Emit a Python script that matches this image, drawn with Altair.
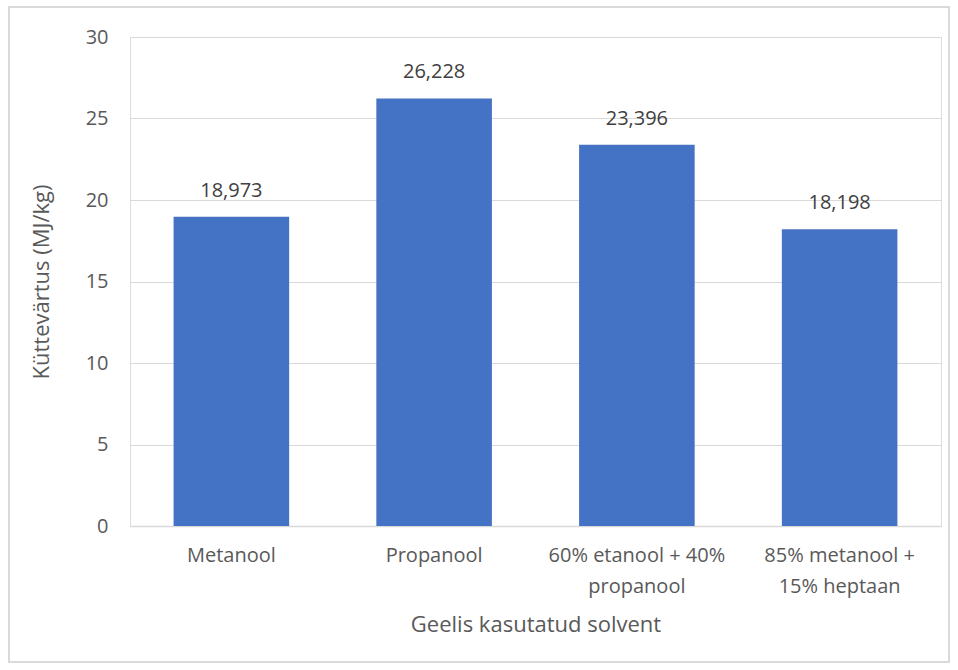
import altair as alt
import pandas as pd

categories = ["Metanool", "Propanool", "60% etanool + 40% propanool", "85% metanool + 15% heptaan"]
label_lines = [["Metanool"], ["Propanool"], ["60% etanool + 40%", "propanool"], ["85% metanool +", "15% heptaan"]]
values = [18.973, 26.228, 23.396, 18.198]
value_labels = ["18,973", "26,228", "23,396", "18,198"]

df = pd.DataFrame({"cat": categories, "val": values, "lbl": value_labels})

expr = "datum.label"
for c, lines in zip(categories, label_lines):
    if len(lines) > 1:
        arr = "[" + ",".join("'" + l + "'" for l in lines) + "]"
        expr = f"datum.label == '{c}' ? {arr} : ({expr})"

FONT = "Open Sans"
GREY = "#595959"

x = alt.X("cat:N", sort=categories, title="Geelis kasutatud solvent",
          scale=alt.Scale(paddingInner=0.43, paddingOuter=0.215),
          axis=alt.Axis(labelAngle=0, labelExpr=expr, ticks=False, domainColor="#D9D9D9",
                        domainWidth=1.5, labelPadding=19, labelFontSize=20, labelColor=GREY,
                        labelFont=FONT, titleFont=FONT, titleFontSize=22, titleColor=GREY,
                        titleFontWeight="normal", titlePadding=18, labelLineHeight=31))
y = alt.Y("val:Q", title="Küttevärtus (MJ/kg)",
          scale=alt.Scale(domain=[0, 30]),
          axis=alt.Axis(values=[0, 5, 10, 15, 20, 25, 30], ticks=False, domain=False,
                        gridColor="#D9D9D9", gridWidth=1.2, labelPadding=22, labelFontSize=20,
                        labelColor=GREY, labelFont=FONT, titleFont=FONT, titleFontSize=22,
                        titleColor=GREY, titleFontWeight="normal", titlePadding=32))

bars = alt.Chart(df).mark_bar(color="#4472C4").encode(x=x, y=y)
texts = alt.Chart(df).mark_text(baseline="middle", dy=-26, fontSize=20, font=FONT, color="#404040").encode(
    x=alt.X("cat:N", sort=categories), y="val:Q", text="lbl:N")

frame = alt.Chart(df).mark_rect(fill=None, stroke="#D9D9D9", strokeWidth=1.5, clip=False).encode(
    x=alt.value(-121), x2=alt.value(819), y=alt.value(-30), y2=alt.value(625))

chart = alt.layer(frame, bars, texts).properties(
    width=811, height=489,
    padding={"left": 130, "top": 37, "right": 17, "bottom": 144},
    autosize=alt.AutoSizeParams(type="none"),
).configure_view(stroke=None).configure(background="white")

chart.save("out.html", embed_options={"renderer": "svg", "actions": False})
